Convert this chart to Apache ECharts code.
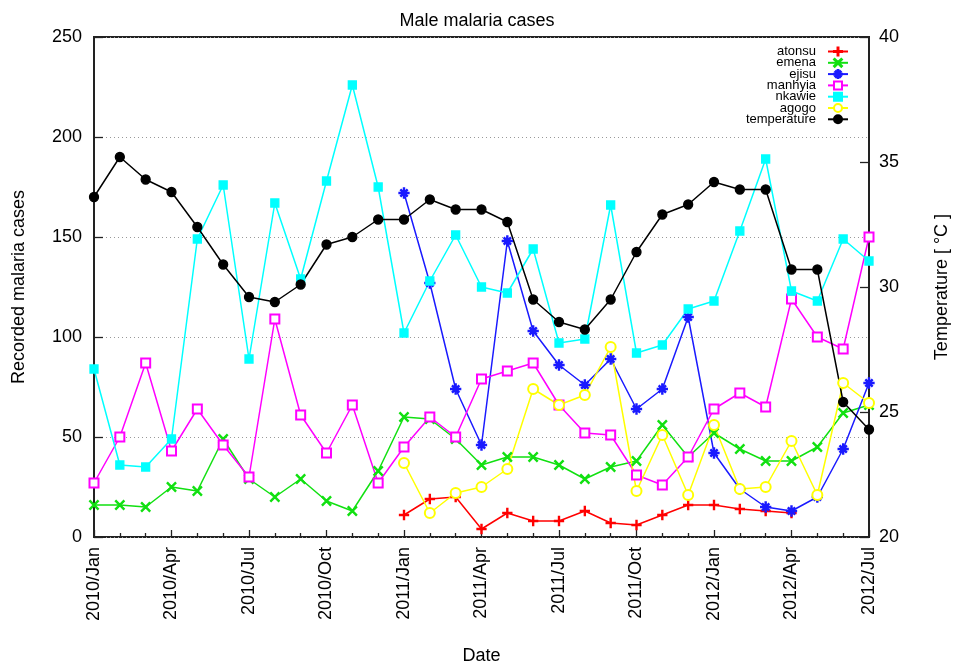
<!DOCTYPE html>
<html>
<head>
<meta charset="utf-8">
<script src="https://cdn.jsdelivr.net/npm/echarts@6/dist/echarts.min.js"></script>
<style>
  html, body { margin: 0; padding: 0; background: #fff; }
  #chart { width: 954px; height: 665px; }
</style>
</head>
<body>
<div id="chart"></div>
<script>
// Monthly series, 2010/Jan .. 2012/Jul (31 months); null = no record
const tickLabels = ['2010/Jan', '2010/Apr', '2010/Jul', '2010/Oct', '2011/Jan', '2011/Apr',
                    '2011/Jul', '2011/Oct', '2012/Jan', '2012/Apr', '2012/Jul'];
const monthCount = 31;

const atonsu = [null, null, null, null, null, null, null, null, null, null, null, null,
                11, 19, 20, 4, 12, 8, 8, 13, 7, 6, 11, 16, 16, 14, 13, 12, null, null, null];
const emena = [16, 16, 15, 25, 23, 49, 29, 20, 29, 18, 13, 33,
               60, 59, 49, 36, 40, 40, 36, 29, 35, 38, 56, 40, 52, 44, 38, 38, 45, 62, 66];
const ejisu = [null, null, null, null, null, null, null, null, null, null, null, null,
               172, 127, 74, 46, 148, 103, 86, 76, 89, 64, 74, 110, 42, 24, 15, 13, 20, 44, 77];
const manhyia = [27, 50, 87, 43, 64, 46, 30, 109, 61, 42, 66, 27,
                 45, 60, 50, 79, 83, 87, 66, 52, 51, 31, 26, 40, 64, 72, 65, 119, 100, 94, 150];
const nkawie = [84, 36, 35, 49, 149, 176, 89, 167, 129, 178, 226, 175,
                102, 128, 151, 125, 122, 144, 97, 99, 166, 92, 96, 114, 118, 153, 189, 123, 118, 149, 138];
const agogo = [null, null, null, null, null, null, null, null, null, null, null, null,
               37, 12, 22, 25, 34, 74, 66, 71, 95, 23, 51, 21, 56, 24, 25, 48, 21, 77, 67];
const temperature = [33.6, 35.2, 34.3, 33.8, 32.4, 30.9, 29.6, 29.4, 30.1, 31.7, 32.0, 32.7,
                     32.7, 33.5, 33.1, 33.1, 32.6, 29.5, 28.6, 28.3, 29.5, 31.4, 32.9, 33.3,
                     34.2, 33.9, 33.9, 30.7, 30.7, 25.4, 24.3];

// gnuplot-like point shapes
const PLUS = 'path://M4.4,0H5.6V4.4H10V5.6H5.6V10H4.4V5.6H0V4.4H4.4Z';
const CROSS = 'path://M0,0.9L0.9,0L5,4.1L9.1,0L10,0.9L5.9,5L10,9.1L9.1,10L5,5.9L0.9,10L0,9.1L4.1,5Z';
const STAR = 'path://M4.45,0H5.55V4.45H10V5.55H5.55V10H4.45V5.55H0V4.45H4.45Z' +
             'M1.4,2.2L2.2,1.4L5,4.2L7.8,1.4L8.6,2.2L5.8,5L8.6,7.8L7.8,8.6L5,5.8L2.2,8.6L1.4,7.8L4.2,5Z';

const FONT = 'Liberation Sans';

function pairs(arr) {
  return arr.map((v, i) => [i, v]);
}

function lineSeries(name, data, color, symbol, size, yAxisIndex) {
  return {
    name: name,
    type: 'line',
    yAxisIndex: yAxisIndex || 0,
    data: pairs(data),
    symbol: symbol,
    symbolSize: size,
    showAllSymbol: true,
    connectNulls: false,
    lineStyle: { color: color, width: 1.5 },
    itemStyle: { color: color, borderColor: color, borderWidth: 1.3 },
    emphasis: { disabled: true },
    animation: false
  };
}

const chart = echarts.init(document.getElementById('chart'), null, { renderer: 'canvas' });

chart.setOption({
  backgroundColor: '#fff',
  animation: false,
  textStyle: { fontFamily: FONT },
  title: {
    text: 'Male malaria cases',
    left: 'center',
    top: 7,
    textStyle: { fontFamily: FONT, fontSize: 18, fontWeight: 'normal', color: '#000' }
  },
  legend: {
    orient: 'vertical',
    right: 100,
    top: 40,
    align: 'right',
    itemWidth: 20,
    itemHeight: 10,
    itemGap: -1.7,
    textStyle: { fontFamily: FONT, fontSize: 13, color: '#000', lineHeight: 11, padding: [0, 7, 0, 0] },
    data: ['atonsu', 'emena', 'ejisu', 'manhyia', 'nkawie', 'agogo', 'temperature']
  },
  grid: {
    left: 94, right: 85, top: 37, bottom: 128,
    outerBoundsMode: 'none',
    containLabel: false,
    show: true,
    borderColor: '#222',
    borderWidth: 2
  },
  xAxis: {
    type: 'value',
    min: 0,
    max: monthCount - 1,
    interval: 3,
    name: 'Date',
    nameLocation: 'middle',
    nameGap: 110,
    nameTextStyle: { fontFamily: FONT, fontSize: 18, color: '#000' },
    axisLine: { show: false },
    axisTick: { show: true, inside: true, length: 7, lineStyle: { color: '#222', width: 1.3 } },
    minorTick: { show: true, splitNumber: 3, length: 4, lineStyle: { color: '#222', width: 1.3 } },
    splitLine: { show: false },
    axisLabel: {
      rotate: 90,
      margin: 10,
      fontFamily: FONT,
      fontSize: 18,
      color: '#000',
      formatter: v => (v % 3 === 0 ? tickLabels[v / 3] : '')
    }
  },
  yAxis: [
    {
      type: 'value',
      min: 0,
      max: 250,
      interval: 50,
      position: 'left',
      name: 'Recorded malaria cases',
      nameLocation: 'middle',
      nameRotate: 90,
      nameGap: 66,
      nameTextStyle: { fontFamily: FONT, fontSize: 18, color: '#000' },
      axisLine: { show: false },
      axisTick: { show: true, inside: true, length: 9, lineStyle: { color: '#222', width: 1.3 } },
      axisLabel: { margin: 12, fontFamily: FONT, fontSize: 18, color: '#000' },
      splitLine: { show: true, lineStyle: { color: '#999', type: [1, 3], width: 1 } }
    },
    {
      type: 'value',
      min: 20,
      max: 40,
      interval: 5,
      position: 'right',
      name: 'Temperature [ \u00b0C ]',
      nameLocation: 'middle',
      nameRotate: 90,
      nameGap: 64,
      nameTextStyle: { fontFamily: FONT, fontSize: 18, color: '#000' },
      axisLine: { show: false },
      axisTick: { show: true, inside: true, length: 9, lineStyle: { color: '#222', width: 1.3 } },
      axisLabel: { margin: 10, fontFamily: FONT, fontSize: 18, color: '#000' },
      splitLine: { show: false }
    }
  ],
  series: [
    lineSeries('atonsu', atonsu, '#ff0000', PLUS, 9),
    lineSeries('emena', emena, '#11e011', CROSS, 9),
    lineSeries('ejisu', ejisu, '#1a1aff', STAR, 10),
    lineSeries('manhyia', manhyia, '#ff00ff', 'emptyRect', 9),
    lineSeries('nkawie', nkawie, '#00ffff', 'rect', 8),
    lineSeries('agogo', agogo, '#ffff00', 'emptyCircle', 10),
    lineSeries('temperature', temperature, '#000000', 'circle', 9, 1)
  ]
});
</script>
</body>
</html>
